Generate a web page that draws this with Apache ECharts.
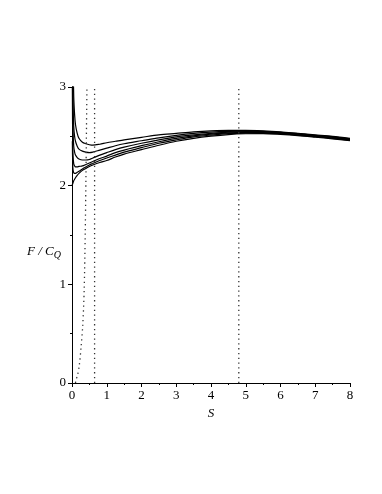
<!DOCTYPE html>
<html>
<head>
<meta charset="utf-8">
<script src="https://cdn.jsdelivr.net/npm/echarts@6/dist/echarts.min.js"></script>
<style>
  html, body { margin: 0; padding: 0; background: #fff; }
  #chart { width: 382px; height: 494px; }
</style>
</head>
<body>
<div id="chart"></div>
<script>
// S grid shared by the solid curves
var sVals = [0, 0.01, 0.02, 0.03, 0.05, 0.075, 0.1, 0.15, 0.2, 0.3, 0.4, 0.5, 0.6, 0.8, 1,
             1.25, 1.5, 2, 2.5, 3, 3.5, 4, 4.5, 5, 5.5, 6, 6.5, 7, 7.5, 8];

var curve1 = [null, 6.5, 4.0, 3.3, 2.9, 2.72, 2.62, 2.53, 2.48, 2.44, 2.425, 2.415, 2.41, 2.42, 2.435,
              2.45, 2.465, 2.49, 2.515, 2.53, 2.545, 2.555, 2.56, 2.56, 2.555, 2.545, 2.53, 2.515, 2.50, 2.48];
var curve2 = [null, 4.6, 3.2, 2.85, 2.6, 2.5, 2.45, 2.40, 2.37, 2.35, 2.34, 2.335, 2.34, 2.36, 2.38,
              2.405, 2.425, 2.455, 2.485, 2.51, 2.53, 2.543, 2.55, 2.553, 2.55, 2.54, 2.527, 2.51, 2.495, 2.475];
var curve3 = [null, 3.6, 2.8, 2.55, 2.4, 2.34, 2.31, 2.285, 2.27, 2.26, 2.26, 2.265, 2.28, 2.31, 2.335,
              2.365, 2.39, 2.43, 2.465, 2.495, 2.515, 2.53, 2.542, 2.547, 2.545, 2.535, 2.523, 2.505, 2.49, 2.47];
var curve4 = [null, 3.0, 2.45, 2.3, 2.22, 2.2, 2.19, 2.19, 2.195, 2.2, 2.215, 2.23, 2.245, 2.275, 2.3,
              2.335, 2.36, 2.405, 2.445, 2.48, 2.505, 2.522, 2.535, 2.54, 2.538, 2.53, 2.518, 2.50, 2.485, 2.465];
var curve5 = [null, 2.45, 2.22, 2.16, 2.13, 2.125, 2.125, 2.135, 2.145, 2.17, 2.19, 2.21, 2.225, 2.255, 2.28,
              2.31, 2.34, 2.385, 2.43, 2.465, 2.495, 2.513, 2.527, 2.533, 2.533, 2.525, 2.513, 2.497, 2.48, 2.46];
var curve6 = [2.0, 2.01, 2.02, 2.03, 2.05, 2.065, 2.08, 2.105, 2.125, 2.155, 2.175, 2.195, 2.21, 2.235, 2.255,
              2.29, 2.32, 2.365, 2.41, 2.45, 2.48, 2.502, 2.518, 2.526, 2.528, 2.52, 2.508, 2.492, 2.475, 2.455];

// dotted curve near S = 0
var dotS = [0.1, 0.115, 0.16, 0.21, 0.26, 0.31, 0.35, 0.38, 0.40, 0.43];
var dotF = [0, 0.03, 0.08, 0.18, 0.36, 0.59, 0.94, 1.5, 2.05, 3.0];

// dotted vertical lines
var vLines = [0.65, 4.8];

var xTicks = [0, 1, 2, 3, 4, 5, 6, 7, 8];
var yTicks = [0, 1, 2, 3];

function zip(xs, ys) {
    var out = [];
    for (var i = 0; i < xs.length; i++) out.push([xs[i], ys[i]]);
    return out;
}

var solid = [curve1, curve2, curve3, curve4, curve5, curve6].map(function (c) {
    return {
        type: 'line',
        data: zip(sVals, c),
        showSymbol: false,
        smooth: 0.3,
        clip: true,
        lineStyle: { color: '#000', width: 1.2 }
    };
});

var dotStyle = { color: '#333', width: 1.3, type: [1.3, 3.5] };

var dotted = [{
    type: 'line',
    data: zip(dotS, dotF),
    showSymbol: false,
    smooth: 0.3,
    clip: true,
    lineStyle: dotStyle
}];
vLines.forEach(function (v) {
    dotted.push({
        type: 'line',
        data: [[v, yTicks[0]], [v, yTicks[yTicks.length - 1]]],
        showSymbol: false,
        lineStyle: dotStyle
    });
});

var labelFont = { fontFamily: 'Liberation Serif', fontSize: 13, color: '#000' };

var chart = echarts.init(document.getElementById('chart'), null, { renderer: 'canvas' });
chart.setOption({
    animation: false,
    backgroundColor: '#fff',
    grid: { left: 72, right: 32, top: 87, bottom: 111 },
    xAxis: {
        type: 'value',
        min: xTicks[0],
        max: xTicks[xTicks.length - 1],
        interval: 1,
        name: 'S',
        nameLocation: 'middle',
        nameGap: 24,
        nameTextStyle: { fontFamily: 'Liberation Serif', fontSize: 13, fontStyle: 'italic', color: '#000' },
        axisLine: { lineStyle: { color: '#000', width: 1 } },
        axisTick: { length: 4, lineStyle: { color: '#000' } },
        minorTick: { show: true, splitNumber: 2, length: 2, lineStyle: { color: '#000' } },
        axisLabel: Object.assign({ margin: 6 }, labelFont),
        splitLine: { show: false }
    },
    yAxis: {
        type: 'value',
        min: yTicks[0],
        max: yTicks[yTicks.length - 1],
        interval: 1,
        axisLine: { show: true, lineStyle: { color: '#000', width: 1 } },
        axisTick: { show: true, length: 4, lineStyle: { color: '#000' } },
        minorTick: { show: true, splitNumber: 2, length: 2, lineStyle: { color: '#000' } },
        axisLabel: Object.assign({ margin: 6 }, labelFont),
        splitLine: { show: false }
    },
    graphic: [{
        type: 'text',
        left: 27,
        top: 245,
        style: {
            text: '{i|F / C}{s|Q}',
            rich: {
                i: { fontFamily: 'Liberation Serif', fontSize: 13, fontStyle: 'italic', fill: '#000' },
                s: { fontFamily: 'Liberation Serif', fontSize: 10, fontStyle: 'italic', fill: '#000', padding: [8, 0, 0, 0] }
            }
        }
    }],
    series: solid.concat(dotted)
});
</script>
</body>
</html>
